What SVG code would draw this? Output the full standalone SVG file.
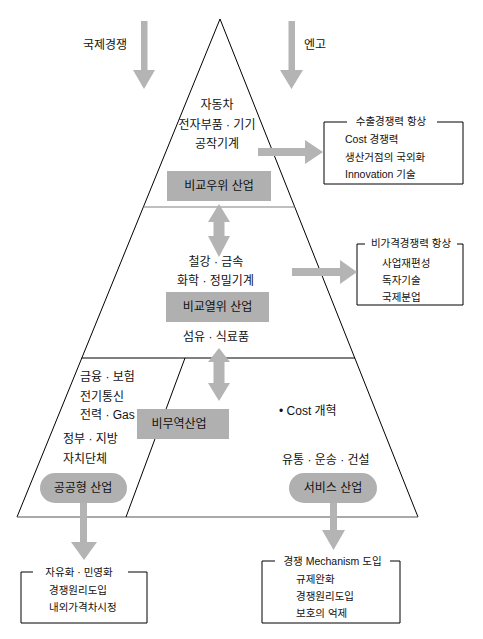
<svg xmlns="http://www.w3.org/2000/svg" width="483" height="639" viewBox="0 0 483 639">
<style>
text{font-family:'Liberation Sans','Noto Sans CJK KR',sans-serif;fill:#111;dominant-baseline:central}
.t{font-size:12px}
.s{font-size:10.5px}
.c{text-anchor:middle}
.arw{fill:#b4b4b4;stroke:none}
.gbox{fill:#b0b0b0;stroke:none}
.frame{fill:none;stroke:#000;stroke-width:1}
</style>
<rect width="483" height="639" fill="#fff"/>
<g id="pyramid">
<polyline points="17,517 220,19 418,517" fill="none" stroke="#000" stroke-width="1"/>
<line x1="17" y1="517" x2="418" y2="517" stroke="#555" stroke-width="1"/>
<line x1="143.5" y1="207" x2="294.6" y2="207" stroke="#808080" stroke-width="1.2"/>
<line x1="81.7" y1="358" x2="355" y2="358" stroke="#000" stroke-width="1"/>
<line x1="185" y1="358" x2="126" y2="517" stroke="#000" stroke-width="1"/>
</g>
<g id="labels-top">
<text class="t c" x="105" y="45">국제경쟁</text>
<text class="t c" x="315" y="45">엔고</text>
</g>
<g id="node-comparative-advantage">
<text class="t c" x="217" y="105">자동차</text>
<text class="t c" x="217" y="125">전자부품 · 기기</text>
<text class="t c" x="217" y="144">공작기계</text>
<rect class="gbox" x="167" y="171" width="104" height="30"/>
<text class="t c" x="219" y="186">비교우위 산업</text>
</g>
<g id="node-comparative-disadvantage">
<text class="t c" x="216" y="262">철강 · 금속</text>
<text class="t c" x="215.5" y="281">화학 · 정밀기계</text>
<rect class="gbox" x="166" y="292" width="103" height="30"/>
<text class="t c" x="217.5" y="307">비교열위 산업</text>
<text class="t c" x="216" y="337">섬유 · 식료품</text>
</g>
<g id="node-non-trade">
<rect class="gbox" x="137" y="409" width="92" height="30"/>
<text class="t c" x="179" y="424">비무역산업</text>
</g>
<g id="node-public">
<text class="t" x="80" y="377">금융 · 보험</text>
<text class="t" x="80" y="397">전기통신</text>
<text class="t" x="80" y="415">전력 · Gas</text>
<text class="t" x="63" y="439">정부 · 지방</text>
<text class="t" x="63" y="459">자치단체</text>
<rect class="gbox" x="40" y="473" width="87" height="30" rx="15"/>
<text class="t c" x="83" y="488">공공형 산업</text>
</g>
<g id="node-service">
<text class="t" x="279" y="411">• Cost 개혁</text>
<text class="t" x="282" y="460">유통 · 운송 · 건설</text>
<rect class="gbox" x="289" y="473" width="88" height="30" rx="15"/>
<text class="t c" x="333" y="488">서비스 산업</text>
</g>
<g id="box-export">
<path class="frame" d="M347,122 H324 V184 H463 V122 H437"/>
<text class="s c" x="391" y="121">수출경쟁력 항상</text>
<text class="s" x="345" y="139">Cost 경쟁력</text>
<text class="s" x="345" y="157">생산거점의 국외화</text>
<text class="s" x="345" y="174">Innovation 기술</text>
</g>
<g id="box-nonprice">
<path class="frame" d="M365,244 H357 V305 H463 V244 H457"/>
<text class="s c" x="411" y="243">비가격경쟁력 항상</text>
<text class="s" x="382" y="263">사업재편성</text>
<text class="s" x="382" y="280">독자기술</text>
<text class="s" x="382" y="297">국제분업</text>
</g>
<g id="box-liberalize">
<path class="frame" d="M33,572 H21 V623 H147 V572 H128"/>
<text class="s c" x="79" y="572">자유화 · 민영화</text>
<text class="s" x="49" y="590">경쟁원리도입</text>
<text class="s" x="49" y="607">내외가격차시정</text>
</g>
<g id="box-competition">
<path class="frame" d="M275,561 H262 V623 H400 V561 H390"/>
<text class="s c" x="332.5" y="561">경쟁 Mechanism 도입</text>
<text class="s" x="296" y="579">규제완화</text>
<text class="s" x="296" y="596">경쟁원리도입</text>
<text class="s" x="296" y="613">보호의 억제</text>
</g>
<g id="connectors">
<polygon class="arw" points="141,21 147.5,21 147.5,70 155,70 144,89 133,70 141,70"/>
<polygon class="arw" points="288.5,21 295,21 295,70 303,70 291.5,89 280,70 288.5,70"/>
<polygon class="arw" points="258,148 305,148 305,140 323,152 305,164 305,156 258,156"/>
<polygon class="arw" points="292,268 340,268 340,260 357,272 340,284 340,276 292,276"/>
<polygon class="arw" points="219,204 230,222 224.5,222 224.5,236 230,236 219,257 208,236 213.5,236 213.5,222 208,222"/>
<polygon class="arw" points="219,348 230,362 224.5,362 224.5,383 230,383 219,401 208,383 213.5,383 213.5,362 208,362"/>
<polygon class="arw" points="80,503 87,503 87,542 97,542 84,560 71,542 80,542"/>
<polygon class="arw" points="330,503 337,503 337,530 345,530 333.5,550 322,530 330,530"/>
</g>
</svg>
